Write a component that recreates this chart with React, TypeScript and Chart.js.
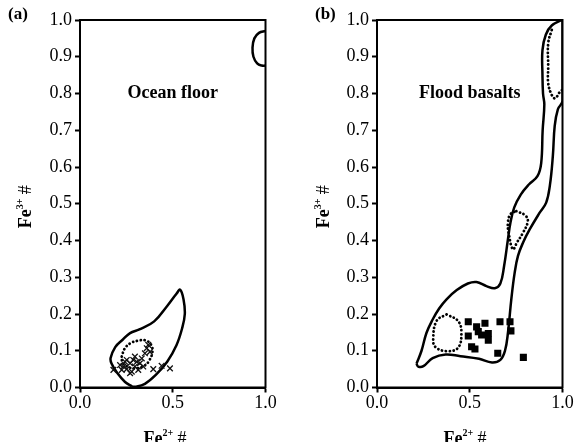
import React, { useEffect, useRef } from "react";
import { Chart, registerables } from "chart.js";
Chart.register(...registerables);

// ---------- data ----------
const xTickValues = [0, 0.5, 1.0];
const yTickStep = 0.1;

// Panel (a) Ocean floor
const oceanOuter: [number, number][] = [
  [0.28, 0.003], [0.243, 0.015], [0.2, 0.04], [0.17, 0.065], [0.165, 0.08],
  [0.19, 0.11], [0.23, 0.13], [0.27, 0.148], [0.32, 0.158], [0.4, 0.18],
  [0.47, 0.222], [0.52, 0.255], [0.54, 0.266], [0.558, 0.24], [0.565, 0.2],
  [0.55, 0.16], [0.52, 0.115], [0.47, 0.07], [0.41, 0.035], [0.35, 0.01],
  [0.3, 0.002], [0.28, 0.003],
];
const oceanTopRight: [number, number][] = [
  [1.0, 0.97], [0.965, 0.965], [0.94, 0.95], [0.93, 0.925], [0.935, 0.9],
  [0.955, 0.882], [0.98, 0.876], [1.0, 0.876],
];
const oceanDotted: [number, number][] = [
  [0.225, 0.084], [0.24, 0.105], [0.27, 0.12], [0.31, 0.127], [0.355, 0.128],
  [0.385, 0.115], [0.39, 0.095], [0.375, 0.075], [0.35, 0.06], [0.3, 0.052],
  [0.25, 0.058], [0.228, 0.07], [0.225, 0.084],
];
const oceanSamples: [number, number][] = [
  [0.18, 0.048], [0.216, 0.061], [0.233, 0.057], [0.243, 0.07], [0.252, 0.05],
  [0.27, 0.066], [0.279, 0.043], [0.287, 0.075], [0.296, 0.057], [0.306, 0.07],
  [0.314, 0.048], [0.323, 0.066], [0.333, 0.079], [0.341, 0.057], [0.35, 0.093],
  [0.36, 0.107], [0.368, 0.116], [0.377, 0.097], [0.27, 0.039], [0.252, 0.075],
  [0.395, 0.05], [0.44, 0.059], [0.485, 0.052], [0.225, 0.048], [0.296, 0.084],
];

// Panel (b) Flood basalts
const floodOuter: [number, number][] = [
  [0.213, 0.065], [0.24, 0.1], [0.267, 0.149], [0.3, 0.185], [0.335, 0.215],
  [0.375, 0.24], [0.43, 0.265], [0.49, 0.283], [0.536, 0.287], [0.59, 0.276],
  [0.635, 0.27], [0.665, 0.283], [0.685, 0.33], [0.705, 0.4], [0.72, 0.45],
  [0.74, 0.49], [0.775, 0.525], [0.82, 0.553], [0.865, 0.575], [0.885, 0.61],
  [0.893, 0.7], [0.902, 0.77], [0.895, 0.8], [0.892, 0.85], [0.892, 0.918],
  [0.91, 0.96], [0.942, 0.985], [1.0, 1.0], [1.0, 0.78], [0.975, 0.757],
  [0.958, 0.712], [0.948, 0.63], [0.932, 0.55], [0.912, 0.503], [0.876, 0.475],
  [0.823, 0.43], [0.787, 0.394], [0.76, 0.358], [0.742, 0.312], [0.724, 0.24],
  [0.706, 0.149], [0.69, 0.1], [0.665, 0.075], [0.62, 0.068], [0.55, 0.078],
  [0.45, 0.085], [0.37, 0.09], [0.3, 0.08], [0.25, 0.058], [0.222, 0.057],
  [0.213, 0.065],
];
const floodDottedLow: [number, number][] = [
  [0.375, 0.199], [0.437, 0.181], [0.455, 0.149], [0.437, 0.108], [0.375, 0.099],
  [0.315, 0.11], [0.303, 0.131], [0.321, 0.181], [0.375, 0.199],
];
const floodDottedMid: [number, number][] = [
  [0.751, 0.48], [0.8, 0.468], [0.813, 0.452], [0.787, 0.421], [0.755, 0.395],
  [0.733, 0.376], [0.71, 0.42], [0.706, 0.45], [0.72, 0.472], [0.751, 0.48],
];
const floodDottedTop: [number, number][] = [
  [0.942, 0.973], [0.923, 0.937], [0.923, 0.873], [0.923, 0.828], [0.942, 0.796],
  [0.96, 0.787], [0.987, 0.805], [1.0, 0.81],
];
const floodSamples: [number, number][] = [
  [0.492, 0.179], [0.492, 0.14], [0.537, 0.165], [0.546, 0.152], [0.582, 0.175],
  [0.564, 0.143], [0.6, 0.147], [0.6, 0.129], [0.51, 0.111], [0.528, 0.105],
  [0.663, 0.179], [0.717, 0.179], [0.722, 0.154], [0.651, 0.093], [0.789, 0.082],
];

// ---------- helpers ----------
const pts = (a: [number, number][]) => a.map(([x, y]) => ({ x, y }));
const SERIF = "'Liberation Serif', 'Times New Roman', serif";

const solid = (d: [number, number][]) => ({
  data: pts(d), showLine: true, borderColor: "#000", borderWidth: 2.5,
  pointRadius: 0, tension: 0.4, fill: false,
});
const dotted = (d: [number, number][]) => ({
  data: pts(d), showLine: true, borderColor: "#000", borderWidth: 2.8,
  borderDash: [0.1, 3.8], borderCapStyle: "round", pointRadius: 0, tension: 0.4, fill: false,
});

function drawFe(ctx: CanvasRenderingContext2D, cx: number, cy: number, sup: string, rotate: boolean) {
  ctx.save();
  ctx.translate(cx, cy);
  if (rotate) ctx.rotate(-Math.PI / 2);
  ctx.fillStyle = "#000";
  ctx.textBaseline = "alphabetic";
  ctx.textAlign = "left";
  const big = `bold 18px ${SERIF}`;
  const small = `bold 10px ${SERIF}`;
  const hash = `18px ${SERIF}`;
  ctx.font = big; const w1 = ctx.measureText("Fe").width;
  ctx.font = small; const w2 = ctx.measureText(sup).width;
  ctx.font = hash; const w3 = ctx.measureText(" #").width;
  const total = w1 + w2 + w3;
  let x = -total / 2;
  const base = 6;
  ctx.font = big; ctx.fillText("Fe", x, base); x += w1;
  ctx.font = small; ctx.fillText(sup, x, base - 8); x += w2;
  ctx.font = hash; ctx.fillText(" #", x, base);
  ctx.restore();
}

function makeConfig(panel: string, label: string, labelX: number, yTitleX: number, xTitleX: number,
  yAxisWidth: number, rightPad: number, datasets: any[]) {
  const textPlugin = {
    id: "texts" + panel,
    afterDraw(chart: any) {
      const ctx = chart.ctx as CanvasRenderingContext2D;
      const a = chart.chartArea;
      ctx.save();
      ctx.strokeStyle = "#000";
      ctx.lineWidth = 2;
      ctx.strokeRect(a.left, a.top, a.right - a.left, a.bottom - a.top);
      ctx.fillStyle = "#000";
      ctx.font = `bold 17px ${SERIF}`;
      ctx.textAlign = "left";
      ctx.textBaseline = "middle";
      ctx.fillText(panel, labelX, 15);
      ctx.font = `bold 18px ${SERIF}`;
      ctx.textAlign = "center";
      const sx = chart.scales.x, sy = chart.scales.y;
      ctx.fillText(label, sx.getPixelForValue(0.5), sy.getPixelForValue(0.8));
      ctx.restore();
      drawFe(ctx, yTitleX, (a.top + a.bottom) / 2 + 3, "3+", true);
      drawFe(ctx, xTitleX, 438, "2+", false);
    },
  };
  return {
    type: "scatter",
    data: { datasets },
    options: {
      responsive: false,
      animation: false,
      events: [],
      layout: { padding: { top: 20, right: rightPad, left: 0, bottom: 0 } },
      plugins: { legend: { display: false }, tooltip: { enabled: false } },
      scales: {
        x: {
          type: "linear", min: 0, max: 1,
          afterFit: (s: any) => { s.height = 54.5; },
          afterBuildTicks: (s: any) => { s.ticks = xTickValues.map((v) => ({ value: v })); },
          ticks: { color: "#000", font: { family: SERIF, size: 18 }, padding: 0, maxRotation: 0,
            callback: (v: any) => Number(v).toFixed(1) },
          grid: { display: true, drawOnChartArea: false, drawTicks: true, tickLength: 5, tickColor: "#000", tickWidth: 2 },
          border: { display: true, color: "#000", width: 2 },
        },
        y: {
          type: "linear", min: 0, max: 1,
          afterFit: (s: any) => { s.width = yAxisWidth; },
          ticks: { stepSize: yTickStep, color: "#000", font: { family: SERIF, size: 18 }, padding: 3,
            callback: (v: any) => Number(v).toFixed(1) },
          grid: { display: true, drawOnChartArea: false, drawTicks: true, tickLength: 5, tickColor: "#000", tickWidth: 2 },
          border: { display: true, color: "#000", width: 2 },
        },
      },
    },
    plugins: [textPlugin],
  } as any;
}

export default function App() {
  const refA = useRef<HTMLCanvasElement>(null);
  const refB = useRef<HTMLCanvasElement>(null);
  useEffect(() => {
    const dsA = [
      { data: pts(oceanSamples), showLine: false, pointStyle: "crossRot", pointRadius: 4,
        borderColor: "#111", borderWidth: 1.3, backgroundColor: "#111" },
      solid(oceanOuter), solid(oceanTopRight), dotted(oceanDotted),
    ];
    const dsB = [
      { data: pts(floodSamples), showLine: false, pointStyle: "rect", pointRadius: 5,
        borderColor: "#000", borderWidth: 0, backgroundColor: "#000" },
      solid(floodOuter), dotted(floodDottedLow), dotted(floodDottedMid), dotted(floodDottedTop),
    ];
    const cA = new Chart(refA.current!, makeConfig("(a)", "Ocean floor", 8, 25, 165, 80, 24.5, dsA));
    const cB = new Chart(refB.current!, makeConfig("(b)", "Flood basalts", 25, 33, 175, 87, 17.5, dsB));
    return () => { cA.destroy(); cB.destroy(); };
  }, []);
  return (
    <div style={{ position: "fixed", left: 0, top: 0, width: 580, height: 442, background: "#fff", overflow: "hidden" }}>
      <canvas ref={refA} width={290} height={442} style={{ position: "absolute", left: 0, top: 0 }} />
      <canvas ref={refB} width={290} height={442} style={{ position: "absolute", left: 290, top: 0 }} />
    </div>
  );
}
